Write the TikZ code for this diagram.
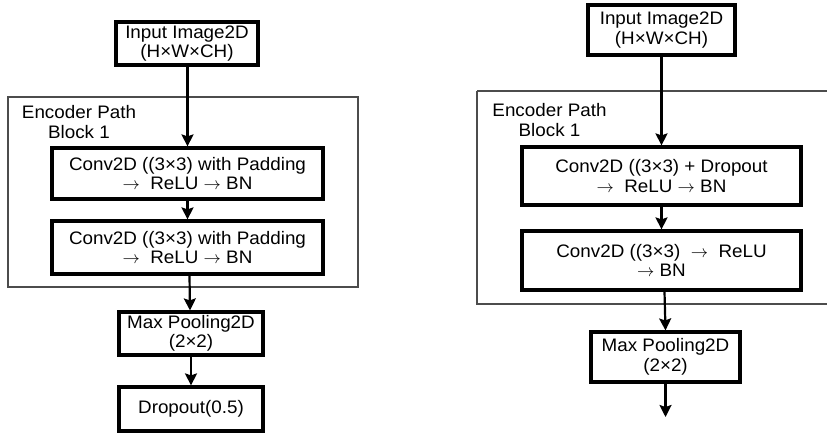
\documentclass[tikz,border=0pt]{standalone}
\usepackage{fontspec}
\setmainfont[FakeStretch=1.04]{Liberation Sans}
\usetikzlibrary{arrows.meta}
\newcommand{\ra}{$\rightarrow$}
\begin{document}
\begin{tikzpicture}[x=1pt,y=-1pt,
  blk/.style={draw=black,line width=3.2pt,fill=white,align=center,inner sep=0pt,
    font=\fontsize{18.1}{19.5}\selectfont},
  encbox/.style={draw=black!70,line width=1.8pt},
  enclbl/.style={align=center,inner sep=0pt,font=\fontsize{18.1}{19.5}\selectfont},
  conn/.style={line width=2.2pt,-{Stealth[length=12pt,width=12pt,inset=2pt]}}]
\useasboundingbox (0,0) rectangle (827,432);
\clip (0,0) rectangle (827,432);
% ---------- left ----------
\draw[encbox] (8,97) rectangle (358,287);
\node[enclbl] (elL) at (79,122) {Encoder Path\\Block 1};
\node[blk,minimum width=142pt,minimum height=43pt] (inL) at (187,43.5) {Input Image2D\\(H×W×CH)};
\node[blk,minimum width=271pt,minimum height=51pt] (c1L) at (187.5,173.5) {Conv2D ((3×3) with Padding\\\ra\ \ ReLU \ra\ BN};
\node[blk,minimum width=271pt,minimum height=53pt] (c2L) at (187.5,247.5) {Conv2D ((3×3) with Padding\\\ra\ \ ReLU \ra\ BN};
\node[blk,minimum width=144pt,minimum height=43pt] (mpL) at (191,333.5) {Max Pooling2D\\(2×2)};
\node[blk,minimum width=144pt,minimum height=44pt] (dpL) at (191,409) {Dropout(0.5)};
\draw[conn] (inL.south -| c1L.north) -- (c1L.north);
\draw[conn] (c1L.south) -- (c2L.north);
\draw[conn] ([xshift=2pt]c2L.south) -- ([xshift=-1pt]mpL.north);
\draw[conn] (mpL.south) -- (dpL.north);
% ---------- right ----------
\draw[encbox] (477,91) -- (832,91) (477,91) -- (477,304) -- (832,304);
\node[enclbl] (elR) at (549.5,120) {Encoder Path\\Block 1};
\node[blk,minimum width=147pt,minimum height=50pt] (inR) at (661.5,30) {Input Image2D\\(H×W×CH)};
\node[blk,minimum width=279pt,minimum height=58pt] (c1R) at (661.5,176) {Conv2D ((3×3) + Dropout\\\ra\ \ ReLU \ra\ BN};
\node[blk,minimum width=279pt,minimum height=59pt] (c2R) at (661.5,260.5) {Conv2D ((3×3)\ \ \ra\ \ ReLU\\\ra\ BN};
\node[blk,minimum width=149pt,minimum height=50pt] (mpR) at (665.5,357) {Max Pooling2D\\(2×2)};
\coordinate (endR) at (665.5,417);
\draw[conn] (inR.south) -- (c1R.north);
\draw[conn] (c1R.south) -- (c2R.north);
\draw[conn] ([xshift=3pt]c2R.south) -- (mpR.north);
\draw[conn] (mpR.south) -- (endR);
\end{tikzpicture}
\end{document}
